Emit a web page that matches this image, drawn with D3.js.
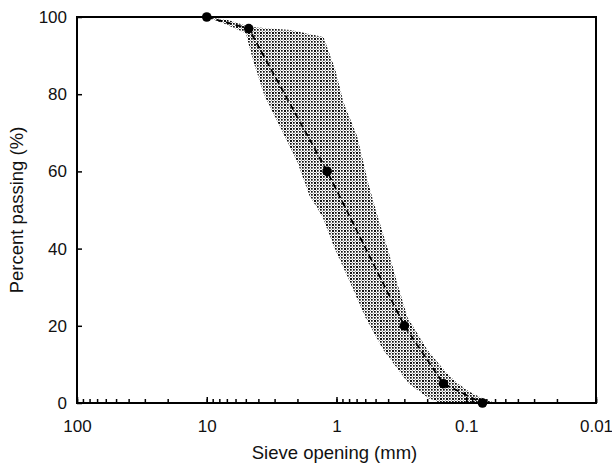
<!DOCTYPE html>
<html>
<head>
<meta charset="utf-8">
<script src="https://cdn.jsdelivr.net/npm/d3@7"></script>
<style>
  body { margin: 0; background: #fff; }
  text { font-family: "Liberation Sans", Arial, sans-serif; }
</style>
</head>
<body>
<div id="chart"></div>
<script>
// Gradation curve (sieve size in mm, percent passing)
const sieveSizes = [10, 4.75, 1.18, 0.3, 0.15, 0.075];
const percentPassing = [100, 97, 60, 20, 5, 0];

// Envelope of the shaded band: fine side (right) and coarse side (left)
const fineSizes = [10, 6.9, 4.6, 2.26, 1.26, 1.02, 0.88, 0.69, 0.57, 0.48, 0.40, 0.34, 0.284, 0.199, 0.144, 0.117, 0.093, 0.075, 0.06];
const finePass  = [100, 99.2, 97.4, 96.6, 94.8, 86.3, 77.7, 68.9, 57.0, 48.2, 39.6, 31.0, 22.2, 13.7, 8.0, 5.1, 2.8, 1.2, 0];
const coarseSizes = [10, 7.2, 5.0, 4.4, 3.6, 2.65, 2.0, 1.62, 1.28, 1.02, 0.78, 0.60, 0.435, 0.279, 0.195, 0.158];
const coarsePass  = [100, 98.2, 95.8, 88.8, 79.7, 70.7, 62.4, 53.8, 48.2, 39.6, 31.0, 22.2, 13.7, 5.1, 1.2, 0];

// Axis ticks
const xMajorTicks = [100, 10, 1, 0.1, 0.01];
const xTickLabels = ["100", "10", "1", "0.1", "0.01"];
const yTicks = [0, 20, 40, 60, 80, 100];

const W = 612, H = 467;
const margin = {top: 17, right: 16, bottom: 64, left: 77};
const width = W - margin.left - margin.right,
      height = H - margin.top - margin.bottom;

const svg = d3.select("#chart").append("svg")
  .attr("width", W).attr("height", H);

// pattern for the stippled band (dots with small crosses)
const defs = svg.append("defs");
const pat = defs.append("pattern")
  .attr("id", "stipple")
  .attr("patternUnits", "userSpaceOnUse")
  .attr("width", 6).attr("height", 6);
[[0,0],[3,0],[0,3]].forEach(p => {
  pat.append("rect").attr("x", p[0]).attr("y", p[1])
    .attr("width", 1.7).attr("height", 1.7).attr("fill", "#111");
});
pat.append("path")
  .attr("d", "M2.6,2.6L5.4,5.4M5.4,2.6L2.6,5.4")
  .attr("stroke", "#111").attr("stroke-width", 1);

const inner = svg.append("g")
  .attr("transform", "translate(" + margin.left + "," + margin.top + ")");

const x = d3.scaleLog().domain([100, 0.01]).range([0, width]);
const y = d3.scaleLinear().domain([0, 100]).range([height, 0]);

// band polygon: fine side top->bottom, coarse side bottom->top
const bandPts = fineSizes.map((s, i) => [s, finePass[i]])
  .concat(coarseSizes.map((s, i) => [s, coarsePass[i]]).reverse());
inner.append("path")
  .attr("d", d3.line().x(d => x(d[0])).y(d => y(d[1])).curve(d3.curveLinearClosed)(bandPts))
  .attr("fill", "url(#stipple)")
  .attr("stroke", "none");

// dashed gradation line
const pts = sieveSizes.map((s, i) => [s, percentPassing[i]]);
inner.append("path")
  .attr("d", d3.line().x(d => x(d[0])).y(d => y(d[1]))(pts))
  .attr("fill", "none")
  .attr("stroke", "#000")
  .attr("stroke-width", 1.8)
  .attr("stroke-dasharray", "6,4");

// X axis: minor ticks then major ticks with labels
inner.append("g")
  .attr("transform", "translate(0," + height + ")")
  .call(d3.axisBottom(x).tickValues(x.ticks()).tickSize(-4).tickFormat(""))
  .call(g => g.select(".domain").remove())
  .selectAll("line").attr("stroke-width", 1.5);

const xAx = inner.append("g")
  .attr("transform", "translate(0," + height + ")")
  .call(d3.axisBottom(x).tickValues(xMajorTicks).tickSize(-6).tickPadding(17)
    .tickFormat((d, i) => xTickLabels[i]));
xAx.select(".domain").remove();
xAx.selectAll("line").attr("stroke-width", 1.5);
xAx.selectAll("text").attr("font-size", 17).attr("fill", "#111")
  .style("font-family", "Liberation Sans, Arial, sans-serif");

// Y axis
const yAx = inner.append("g")
  .call(d3.axisLeft(y).tickValues(yTicks).tickSize(-5).tickPadding(10));
yAx.select(".domain").remove();
yAx.selectAll("line").attr("stroke-width", 1.5);
yAx.selectAll("text").attr("font-size", 17).attr("fill", "#111")
  .style("font-family", "Liberation Sans, Arial, sans-serif");

// frame
inner.append("rect")
  .attr("x", 0).attr("y", 0).attr("width", width).attr("height", height)
  .attr("fill", "none").attr("stroke", "#000").attr("stroke-width", 2);

// markers
inner.selectAll("circle.pt")
  .data(pts).enter().append("circle")
  .attr("class", "pt")
  .attr("cx", d => x(d[0])).attr("cy", d => y(d[1]))
  .attr("r", 4.8).attr("fill", "#000");

// axis titles
svg.append("text")
  .attr("x", margin.left + width / 2 - 2).attr("y", 459)
  .attr("text-anchor", "middle").attr("font-size", 18.5).attr("fill", "#111")
  .text("Sieve opening (mm)");

svg.append("text")
  .attr("transform", "translate(23," + (margin.top + height / 2) + ") rotate(-90)")
  .attr("text-anchor", "middle").attr("font-size", 18.5).attr("fill", "#111")
  .text("Percent passing (%)");
</script>
</body>
</html>
